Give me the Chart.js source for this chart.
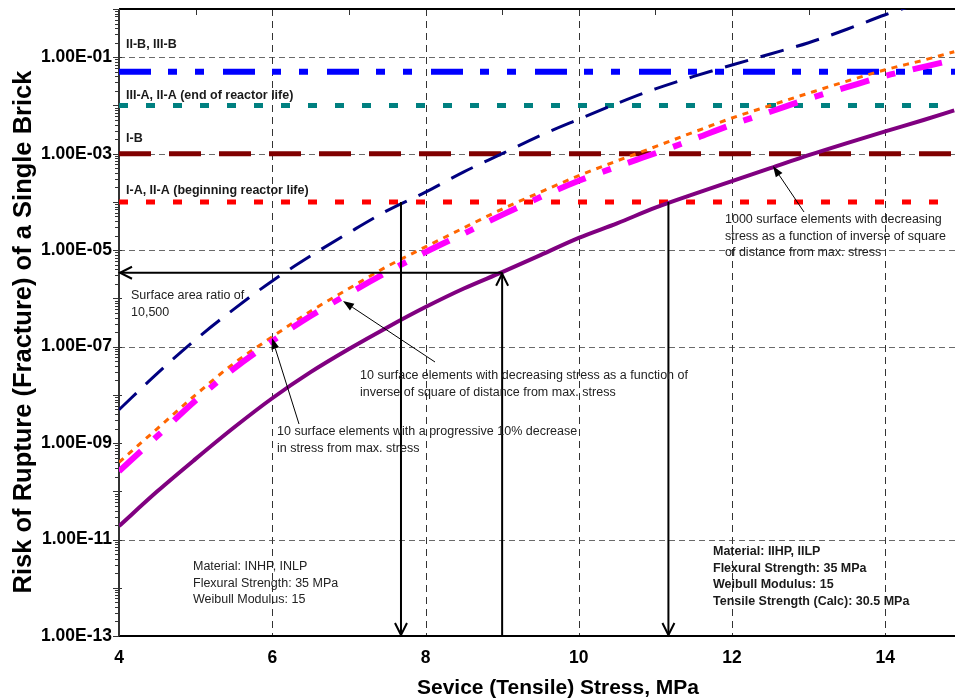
<!DOCTYPE html>
<html>
<head>
<meta charset="utf-8">
<title>Risk of Rupture of a Single Brick</title>
<script src="https://cdn.jsdelivr.net/npm/chart.js@4/dist/chart.umd.min.js"></script>
<style>
  html, body { margin: 0; padding: 0; background: #fff; }
  #wrap { width: 955px; height: 699px; position: relative; }
</style>
</head>
<body>
<div id="wrap"><canvas id="chart"></canvas></div>
<script>
// --- data ---
const stress = [4, 4.5, 5, 5.5, 6, 6.5, 7, 7.5, 8, 8.5, 9, 9.5, 10, 10.5, 11, 11.5, 12, 12.5, 13, 13.5, 14, 14.5, 14.9];

// whole surface at max. stress (navy dashed)
const riskUniform = [4.9e-9, 2.8e-8, 1.4e-7, 6.0e-7, 2.3e-6, 7.6e-6, 2.3e-5, 6.6e-5, 1.6e-4, 4.2e-4, 1.0e-3, 2.4e-3,
  5.2e-3, 1.1e-2, 2.2e-2, 4.0e-2, 6.9e-2, 1.17e-1, 2.0e-1, 3.8e-1, 7.6e-1, 1.4, null];
// 10 elements, progressive 10% decrease (orange dotted)
const risk10Progressive = [4.0e-10, 2.0e-9, 1.0e-8, 4.5e-8, 1.6e-7, 5.4e-7, 1.6e-6, 4.6e-6, 1.17e-5, 2.9e-5, 7.1e-5, 1.6e-4,
  3.5e-4, 7.1e-4, 1.4e-3, 2.8e-3, 5.5e-3, 1.0e-2, 1.8e-2, 3.2e-2, 5.5e-2, 8.7e-2, 1.3e-1];
// 10 elements, inverse square of distance (magenta dash-dot)
const risk10InvSquare = [2.6e-10, 1.4e-9, 7.6e-9, 3.5e-8, 1.3e-7, 4.3e-7, 1.26e-6, 3.5e-6, 9.1e-6, 2.2e-5, 5.4e-5, 1.26e-4,
  2.75e-4, 5.4e-4, 1.02e-3, 2.0e-3, 4.0e-3, 7.4e-3, 1.38e-2, 2.4e-2, 4.1e-2, 6.3e-2, 8.9e-2];
// 1000 elements, inverse square of distance (purple solid)
const risk1000InvSquare = [1.9e-11, 1.0e-10, 4.7e-10, 2.1e-9, 8.5e-9, 2.95e-8, 8.9e-8, 2.5e-7, 6.6e-7, 1.6e-6, 3.5e-6, 7.9e-6,
  1.8e-5, 3.6e-5, 7.6e-5, 1.45e-4, 2.7e-4, 5.0e-4, 9.3e-4, 1.66e-3, 2.9e-3, 5.0e-3, 7.9e-3];

// acceptance levels
const levelRisk = [5e-2, 1e-2, 1e-3, 1e-4];
const levelNames = ['II-B, III-B', 'III-A, II-A (end of reactor life)', 'I-B', 'I-A, II-A (beginning reactor life)'];

// read-off arrows (stress, risk)
const markerStress = [7.68, 9.0, 11.17];
const markerRisk = [1e-4, 3.4e-6, 1e-4];

// axes
const xMin = 4, xMax = 14.91;
const xTickValues = [4, 6, 8, 10, 12, 14];
const yTickValues = [1e-1, 1e-3, 1e-5, 1e-7, 1e-9, 1e-11, 1e-13];
const yTickLabels = ['1.00E-01', '1.00E-03', '1.00E-05', '1.00E-07', '1.00E-09', '1.00E-11', '1.00E-13'];

const FONT = 'Arial, "Liberation Sans", sans-serif';

function pts(arr) {
  return stress.map((s, i) => ({ x: s, y: arr[i] }));
}
function levelPts(v) {
  return [{ x: xMin, y: v }, { x: xMax, y: v }];
}

function line(ctx, x1, y1, x2, y2) {
  ctx.beginPath();
  ctx.moveTo(x1, y1);
  ctx.lineTo(x2, y2);
  ctx.stroke();
}

// open "V" arrow head at (x,y) pointing along (dx,dy)
function openHead(ctx, x, y, dx, dy) {
  const len = 12, half = 6;
  const bx = x - dx * len, by = y - dy * len;
  ctx.beginPath();
  ctx.moveTo(bx - dy * half, by + dx * half);
  ctx.lineTo(x, y);
  ctx.lineTo(bx + dy * half, by - dx * half);
  ctx.stroke();
}

// thin callout with filled head
function callout(ctx, x1, y1, x2, y2) {
  const d = Math.hypot(x2 - x1, y2 - y1);
  const ux = (x2 - x1) / d, uy = (y2 - y1) / d;
  const len = 11, half = 4;
  const bx = x2 - ux * len, by = y2 - uy * len;
  ctx.lineWidth = 1;
  line(ctx, x1, y1, bx, by);
  ctx.beginPath();
  ctx.moveTo(x2, y2);
  ctx.lineTo(bx - uy * half, by + ux * half);
  ctx.lineTo(bx + uy * half, by - ux * half);
  ctx.closePath();
  ctx.fill();
}

// text placed on the picture (pixel positions)
const notes = [
  { x: 126, y: 45, bold: true, lines: [levelNames[0]] },
  { x: 126, y: 96, bold: true, lines: [levelNames[1]] },
  { x: 126, y: 139, bold: true, lines: [levelNames[2]] },
  { x: 126, y: 191, bold: true, lines: [levelNames[3]] },
  { x: 131, y: 296, bold: false, lines: ['Surface area ratio of', '10,500'] },
  { x: 360, y: 376, bold: false, lines: ['10 surface elements with decreasing stress as a function of', 'inverse of square of distance from max. stress'] },
  { x: 277, y: 432, bold: false, lines: ['10 surface elements with a progressive 10% decrease', 'in stress from max. stress'] },
  { x: 725, y: 220, bold: false, lines: ['1000 surface elements with decreasing', 'stress as a function of inverse of square', 'of distance from max. stress'] },
  { x: 193, y: 567, bold: false, lines: ['Material: INHP, INLP', 'Flexural Strength: 35 MPa', 'Weibull Modulus: 15'] },
  { x: 713, y: 552, bold: true, lines: ['Material: IIHP, IILP', 'Flexural Strength: 35 MPa', 'Weibull Modulus: 15', 'Tensile Strength (Calc): 30.5 MPa'] }
];

const framePlugin = {
  id: 'frame',
  beforeDatasetsDraw(chart) {
    const { ctx, chartArea: a, scales: { x, y } } = chart;
    ctx.save();
    ctx.lineWidth = 1;

    // horizontal grid (no line at 1E-09 in the original)
    ctx.strokeStyle = '#6a6a6a';
    ctx.setLineDash([6, 4]);
    yTickValues.filter(v => v !== 1e-9 && v !== 1e-13).forEach(v => {
      const py = Math.round(y.getPixelForValue(v)) + 0.5;
      line(ctx, a.left, py, a.right, py);
    });
    // vertical grid
    ctx.strokeStyle = '#333';
    ctx.setLineDash([7, 5]);
    xTickValues.slice(1).forEach(v => {
      const px = Math.round(x.getPixelForValue(v)) + 0.5;
      line(ctx, px, a.top, px, a.bottom);
    });
    ctx.setLineDash([]);

    // y ticks
    ctx.strokeStyle = '#333';
    for (let e = -13; e <= 0; e++) {
      const py = Math.round(y.getPixelForValue(Math.pow(10, e))) + 0.5;
      line(ctx, a.left - 6, py, a.left + 3, py);
      if (e === 0) continue;
      for (let d = 2; d <= 9; d++) {
        const pm = Math.round(y.getPixelForValue(d * Math.pow(10, e))) + 0.5;
        line(ctx, a.left - 4, pm, a.left, pm);
      }
    }
    // x ticks along the top
    for (let v = 4; v <= 14; v++) {
      const px = Math.round(x.getPixelForValue(v)) + 0.5;
      line(ctx, px, a.top, px, a.top + 6);
    }

    // axis lines
    ctx.lineWidth = 2;
    ctx.strokeStyle = '#000';
    line(ctx, a.left, a.top, a.right, a.top);
    line(ctx, a.left, a.bottom, a.right, a.bottom);
    ctx.strokeStyle = '#333';
    line(ctx, a.left, a.top, a.left, a.bottom);
    ctx.restore();
  },
  afterDatasetsDraw(chart) {
    const { ctx, chartArea: a, scales: { x, y } } = chart;
    ctx.save();
    ctx.strokeStyle = '#000';
    ctx.fillStyle = '#000';
    ctx.lineWidth = 2;

    // read-off arrows
    const p = markerStress.map((s, i) => ({ x: x.getPixelForValue(s), y: y.getPixelForValue(markerRisk[i]) }));
    line(ctx, p[0].x, p[0].y, p[0].x, a.bottom);
    openHead(ctx, p[0].x, a.bottom - 1, 0, 1);
    line(ctx, p[1].x, p[1].y, a.left + 1, p[1].y);
    openHead(ctx, a.left + 1, p[1].y, -1, 0);
    line(ctx, p[1].x, a.bottom, p[1].x, p[1].y);
    openHead(ctx, p[1].x, p[1].y + 1, 0, -1);
    line(ctx, p[2].x, p[2].y, p[2].x, a.bottom);
    openHead(ctx, p[2].x, a.bottom - 1, 0, 1);

    // callouts
    ctx.fillStyle = '#000';
    callout(ctx, 804, 212, 773, 166);
    callout(ctx, 435, 362, 343, 301);
    callout(ctx, 299, 424, 272, 338);

    // notes
    ctx.textBaseline = 'middle';
    ctx.textAlign = 'left';
    notes.forEach(n => {
      ctx.font = (n.bold ? 'bold ' : '') + '12.5px ' + FONT;
      ctx.fillStyle = n.bold ? '#1a1a1a' : '#222';
      n.lines.forEach((t, i) => ctx.fillText(t, n.x, n.y + i * 16.5));
    });

    // axis titles
    ctx.fillStyle = '#000';
    ctx.textAlign = 'center';
    ctx.font = 'bold 21px ' + FONT;
    ctx.fillText('Sevice (Tensile) Stress, MPa', 558, 688);
    ctx.translate(24, 332);
    ctx.rotate(-Math.PI / 2);
    ctx.font = 'bold 25.5px ' + FONT;
    ctx.fillText('Risk of Rupture (Fracture) of a Single Brick', 0, 0);
    ctx.restore();
  }
};

function noPad(s) {
  s.paddingTop = 0;
  s.paddingBottom = 0;
  s.paddingLeft = 0;
  s.paddingRight = 0;
}

new Chart(document.getElementById('chart'), {
  type: 'line',
  data: {
    datasets: [
      { data: pts(risk1000InvSquare), borderColor: '#800080', borderWidth: 4 },
      { data: pts(risk10InvSquare), borderColor: '#FF00FF', borderWidth: 6, borderDash: [30, 18, 9, 18] },
      { data: pts(risk10Progressive), borderColor: '#FF6600', borderWidth: 3, borderDash: [6, 6] },
      { data: pts(riskUniform), borderColor: '#000080', borderWidth: 3, borderDash: [24, 13] },
      { data: levelPts(levelRisk[0]), borderColor: '#0000FF', borderWidth: 6, borderDash: [32, 17, 9, 18, 9, 19] },
      { data: levelPts(levelRisk[1]), borderColor: '#008080', borderWidth: 5, borderDash: [9, 18] },
      { data: levelPts(levelRisk[2]), borderColor: '#800000', borderWidth: 5, borderDash: [32, 18] },
      { data: levelPts(levelRisk[3]), borderColor: '#FF0000', borderWidth: 5, borderDash: [9, 18] }
    ]
  },
  options: {
    responsive: true,
    maintainAspectRatio: false,
    animation: false,
    layout: { padding: { top: 9, right: 0, left: 0, bottom: 0 } },
    plugins: { legend: { display: false }, tooltip: { enabled: false } },
    elements: {
      point: { radius: 0 },
      line: { fill: false, cubicInterpolationMode: 'monotone', borderCapStyle: 'butt' }
    },
    scales: {
      x: {
        type: 'linear',
        min: xMin,
        max: xMax,
        grid: { display: false, drawTicks: false },
        border: { display: false },
        afterBuildTicks: s => { s.ticks = xTickValues.map(v => ({ value: v })); },
        afterFit: s => { s.height = 63; noPad(s); },
        ticks: {
          padding: 12, color: '#000', autoSkip: false, maxRotation: 0,
          font: { family: FONT, size: 17.5, weight: 'bold' }
        }
      },
      y: {
        type: 'logarithmic',
        min: 1e-13,
        max: 1,
        grid: { display: false, drawTicks: false },
        border: { display: false },
        afterBuildTicks: s => { s.ticks = yTickValues.map(v => ({ value: v })); },
        afterFit: s => { s.width = 119; noPad(s); },
        ticks: {
          padding: 7, color: '#000', autoSkip: false,
          font: { family: FONT, size: 17.5, weight: 'bold' },
          callback: v => {
            const i = yTickValues.indexOf(v);
            return i >= 0 ? yTickLabels[i] : '';
          }
        }
      }
    }
  },
  plugins: [framePlugin]
});
</script>
</body>
</html>
